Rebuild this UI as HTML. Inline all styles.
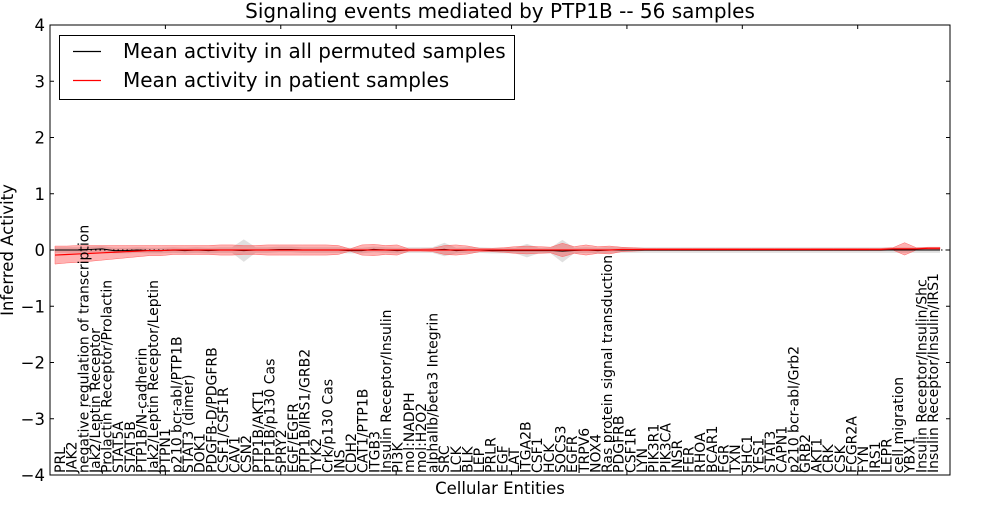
<!DOCTYPE html>
<html><head><meta charset="utf-8"><style>
body{margin:0;background:#fff;}
svg{font-family:"DejaVu Sans","Liberation Sans",sans-serif;}
</style></head><body>
<svg id="chart" width="1000" height="500">
<rect width="1000" height="500" fill="#fff"/>
<text x="500" y="18" text-anchor="middle" font-size="20">Signaling events mediated by PTP1B -- 56 samples</text>
<g id="bands"></g>
<g id="lines"></g>
<g id="labels"></g>
<rect x="50" y="25" width="900" height="450" fill="none" stroke="#000" stroke-width="1"/>
<g id="yaxis"></g>
<g id="xticks"></g>
<text x="500" y="494" text-anchor="middle" font-size="16.5">Cellular Entities</text>
<text transform="translate(13,250) rotate(-90)" text-anchor="middle" font-size="16.5">Inferred Activity</text>
<g>
<rect x="59.5" y="35.5" width="455" height="64" fill="#fff" stroke="#000"/>
<line x1="73" y1="51.5" x2="101" y2="51.5" stroke="#000" stroke-width="1.2"/>
<text x="123" y="58" font-size="20">Mean activity in all permuted samples</text>
<line x1="73" y1="80.5" x2="101" y2="80.5" stroke="#f00" stroke-width="1.2"/>
<text x="123" y="87" font-size="20">Mean activity in patient samples</text>
</g>
</svg>
<script>
const categories=["PRL","JAK2","negative regulation of transcription","Jak2/Leptin Receptor","Prolactin Receptor/Prolactin","STAT5A","STAT5B","PTP1B/N-cadherin","Jak2/Leptin Receptor/Leptin","PTPN1","p210 bcr-abl/PTP1B","STAT3 (dimer)","DOK1","PDGFB-D/PDGFRB","CSF1/CSF1R","CAV1","CSN2","PTP1B/AKT1","PTP1B/p130 Cas","SPRY2","EGF/EGFR","PTP1B/IRS1/GRB2","TYK2","Crk/p130 Cas","INS","CDH2","CAT1/PTP1B","ITGB3","Insulin Receptor/Insulin","PI3K","mol:NADPH","mol:H2O2","alphaIIb/beta3 Integrin","SRC","LCK","BLK","LEP","PRLR","EGF","LAT","ITGA2B","CSF1","HCK","SOCS3","EGFR","TRPV6","NOX4","Ras protein signal transduction","PDGFRB","CSF1R","LYN","PIK3R1","PIK3CA","INSR","FER","RHOA","BCAR1","FGR","TXN","SHC1","YES1","STAT3","CAPN1","p210 bcr-abl/Grb2","GRB2","AKT1","CRK","CSK","FCGR2A","FYN","IRS1","LEPR","cell migration","YBX1","Insulin Receptor/Insulin/Shc","Insulin Receptor/Insulin/IRS1"];
const patientMean=[-0.09,-0.08,-0.07,-0.06,-0.05,-0.04,-0.03,-0.02,-0.01,-0.01,0,0,0,0,0,0,0,0,0,0,0,0,0,0,0,0,0,0,0,0,0,0,0,0,0,0,0,0,0,0,0,0,0,0,0,0,0,0,0.01,0.01,0.01,0.01,0.01,0.01,0.01,0.01,0.01,0.01,0.01,0.01,0.01,0.01,0.01,0.01,0.01,0.01,0.01,0.01,0.01,0.01,0.01,0.02,0.02,0.02,0.03,0.03];
const patientSpread=[0.16,0.15,0.15,0.14,0.13,0.12,0.11,0.1,0.09,0.09,0.08,0.08,0.08,0.08,0.09,0.09,0.08,0.08,0.09,0.09,0.09,0.09,0.09,0.09,0.08,0.02,0.09,0.1,0.08,0.09,0.02,0.02,0.03,0.08,0.09,0.07,0.03,0.03,0.04,0.06,0.07,0.06,0.05,0.12,0.06,0.09,0.06,0.07,0.04,0.03,0.02,0.02,0.02,0.02,0.02,0.02,0.02,0.02,0.02,0.02,0.02,0.02,0.02,0.02,0.02,0.02,0.02,0.02,0.02,0.02,0.02,0.02,0.11,0.02,0.02,0.02];
const permutedMean=[0,0,0,0.01,0.02,-0.01,-0.01,0,-0.01,-0.01,0,-0.01,0,-0.01,0,0,-0.01,0,0,0.01,0.01,0,0,0,0,-0.01,-0.01,0.01,0,-0.01,0,0,0,0.01,-0.01,0,0,-0.01,-0.01,-0.01,-0.01,-0.01,-0.01,-0.02,-0.01,0,-0.01,0,0,0,0,0,0,0,0,0,0,0,0,0,0,0,0,0,0,0,0,0,0,0,0,0,0,0,0,0];
const permutedSpread=[0.05,0.05,0.05,0.05,0.05,0.05,0.05,0.05,0.05,0.05,0.05,0.05,0.05,0.05,0.05,0.05,0.2,0.05,0.05,0.05,0.05,0.05,0.05,0.05,0.05,0.05,0.05,0.05,0.05,0.05,0.05,0.05,0.05,0.12,0.05,0.05,0.05,0.05,0.05,0.05,0.12,0.05,0.05,0.2,0.05,0.05,0.05,0.05,0.05,0.05,0.05,0.05,0.05,0.05,0.05,0.05,0.05,0.05,0.05,0.05,0.05,0.05,0.05,0.05,0.05,0.05,0.05,0.05,0.05,0.05,0.05,0.05,0.05,0.05,0.05,0.05];
const yTicks=[-4,-3,-2,-1,0,1,2,3,4];
const xTicks=[10,20,30,40,50,60,70];
const NS="http://www.w3.org/2000/svg";
const L=50,R=950,T=25,B=475,XMAX=78;
function xs(v){return L+v*(R-L)/XMAX;}
function ys(v){return T+(4-v)*(B-T)/8;}
function xi(i){return 55+i*11.8;}
function xl(i){return 60+i*11.64;}
function mk(tag,attrs,parent){const e=document.createElementNS(NS,tag);for(const k in attrs)e.setAttribute(k,attrs[k]);document.getElementById(parent).appendChild(e);return e;}
function bandPath(mean,spr){let up=mean.map((m,i)=>xi(i)+","+ys(m+spr[i]));let dn=mean.map((m,i)=>xi(i)+","+ys(m-spr[i])).reverse();return "M"+up.join("L")+"L"+dn.join("L")+"Z";}
const gb=mk("path",{d:bandPath(permutedMean,permutedSpread),fill:"#bbb","fill-opacity":"0.45"},"bands");


const rb=mk("path",{d:bandPath(patientMean,patientSpread),fill:"#f00","fill-opacity":"0.3",stroke:"#f66","stroke-width":"0.5"},"bands");


const zl=mk("line",{x1:L,x2:R,y1:ys(0),y2:ys(0),stroke:"#000","stroke-dasharray":"1.5,3"},"lines");


const bl=mk("polyline",{points:permutedMean.map((m,i)=>xi(i)+","+ys(m)).join(" "),fill:"none",stroke:"#000","stroke-width":"1"},"lines");


const rl=mk("polyline",{points:patientMean.map((m,i)=>xi(i)+","+ys(m)).join(" "),fill:"none",stroke:"#f00","stroke-width":"1.2"},"lines");


categories.forEach((c,i)=>{
  const x=xl(i)+5,y=473;
  const t=mk("text",{transform:`translate(${x},${y}) rotate(-90)`,"font-size":"14"},"labels");
  t.textContent=c;
  
  
});
yTicks.forEach(v=>{
  const y=ys(v);
  mk("line",{x1:L,x2:L+4,y1:y,y2:y,stroke:"#000"},"yaxis");
  mk("line",{x1:R,x2:R-4,y1:y,y2:y,stroke:"#000"},"yaxis");
  const t=mk("text",{x:45,y:y+6,"text-anchor":"end","font-size":"16.5"},"yaxis");
  t.textContent=v<0?"\u2212"+Math.abs(v):String(v);
  
  
});
xTicks.forEach(v=>{
  const x=xs(v);
  mk("line",{x1:x,x2:x,y1:T,y2:T+4,stroke:"#000"},"xticks");
  mk("line",{x1:x,x2:x,y1:B,y2:B-4,stroke:"#000"},"xticks");
});
</script>
</body></html>
